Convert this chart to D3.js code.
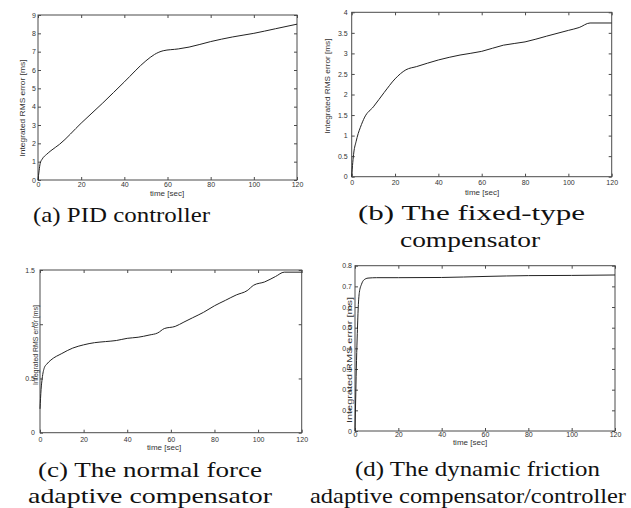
<!DOCTYPE html>
<html>
<head>
<meta charset="utf-8">
<script src="https://cdn.jsdelivr.net/npm/d3@7"></script>
<style>
  body { margin: 0; background: #fff; }
  svg { display: block; }
</style>
</head>
<body>
<svg id="chart" width="631" height="508"></svg>
<script>
// ---- data ----
const xTicks = [0, 20, 40, 60, 80, 100, 120];

const timeA  = [0, 0.5, 1, 2, 4, 6, 10, 20, 30, 40, 50, 54, 58, 65, 70, 80, 90, 100, 110, 120];
const valuesA = [0, 0.5, 0.9, 1.15, 1.4, 1.6, 1.95, 3.1, 4.2, 5.35, 6.5, 6.85, 7.05, 7.15, 7.25, 7.55, 7.8, 8.0, 8.25, 8.5];
const yTicksA = [0, 1, 2, 3, 4, 5, 6, 7, 8, 9];

const timeB  = [0, 0.5, 1, 2, 3, 4, 6, 10, 15, 20, 25, 30, 40, 50, 60, 70, 80, 90, 100, 105, 110, 120];
const valuesB = [0, 0.35, 0.6, 0.85, 1.05, 1.2, 1.45, 1.7, 2.05, 2.38, 2.6, 2.68, 2.84, 2.96, 3.05, 3.2, 3.28, 3.42, 3.56, 3.63, 3.74, 3.74];
const yTicksB = [0, 0.5, 1, 1.5, 2, 2.5, 3, 3.5, 4];

const timeC  = [0, 0.5, 1, 2, 3, 5, 10, 15, 20, 25, 30, 35, 40, 45, 50, 54, 57, 62, 66, 70, 75, 80, 85, 90, 95, 98, 103, 108, 112, 120];
const valuesC = [0.22, 0.4, 0.5, 0.6, 0.63, 0.67, 0.73, 0.78, 0.81, 0.83, 0.84, 0.85, 0.87, 0.88, 0.9, 0.92, 0.96, 0.98, 1.02, 1.06, 1.11, 1.17, 1.22, 1.27, 1.31, 1.36, 1.39, 1.44, 1.48, 1.48];
const yTicksC = [0, 0.5, 1, 1.5];

const timeD  = [0, 0.3, 0.6, 1, 1.5, 2, 3, 4, 6, 10, 20, 40, 60, 80, 100, 120];
const valuesD = [0, 0.15, 0.3, 0.45, 0.6, 0.67, 0.71, 0.73, 0.74, 0.742, 0.742, 0.743, 0.748, 0.752, 0.753, 0.755];
const yTicksD = [0, 0.1, 0.2, 0.3, 0.4, 0.5, 0.6, 0.7, 0.8];

const yLabel = "Integrated RMS error [ms]";
const xLabel = "time [sec]";
const captionsA = ["(a) PID controller"];
const captionsB = ["(b) The fixed-type", "compensator"];
const captionsC = ["(c) The normal force", "adaptive compensator"];
const captionsD = ["(d) The dynamic friction", "adaptive compensator/controller"];

// ---- layout ----
const panels = [
  { t: timeA, v: valuesA, yTicks: yTicksA, yMax: 9, box: [38, 15, 297, 180],
    xPad: 2, yPad: 2, ylab: [24.5, 108, 97], xlab: [167, 196],
    cap: captionsA, capPos: [[121.5, 222, 177]] },
  { t: timeB, v: valuesB, yTicks: yTicksB, yMax: 4, box: [351.7, 12.3, 611.7, 176.7],
    xPad: 3.3, yPad: 4, ylab: [329.5, 86, 95], xlab: [482, 195],
    cap: captionsB, capPos: [[471.5, 220, 227], [470, 247, 140]] },
  { t: timeC, v: valuesC, yTicks: yTicksC, yMax: 1.5, box: [40, 270, 301.7, 432.7],
    xPad: 4.6, yPad: 5, ylab: [38, 345, 80], xlab: [164, 450],
    cap: captionsC, capPos: [[150, 477, 224], [150, 503, 244]] },
  { t: timeD, v: valuesD, yTicks: yTicksD, yMax: 0.8, box: [355, 265.7, 615, 431],
    xPad: 1, yPad: 3, ylab: [352, 360, 126], xlab: [470, 444.5],
    cap: captionsD, capPos: [[477.5, 476, 245], [468, 503, 316]] }
];

const svg = d3.select("#chart");
const axisColor = "#4a4a4a";
const fontSans = "'Liberation Sans', Arial, sans-serif";

// pick a thin serif font that is really installed
function pickSerif() {
  const candidates = ["Liberation Serif", "Tinos", "Times New Roman", "Noto Serif", "Noto Serif CJK KR",
                      "FreeSerif", "Nimbus Roman", "DejaVu Serif Condensed"];
  const probe = svg.append("text").style("font-size", "40px").text("(a) PID controller wmiWMI");
  probe.style("font-family", "monospace");
  const base = probe.node().getComputedTextLength();
  let found = null;
  for (const f of candidates) {
    probe.style("font-family", `'${f}', monospace`);
    if (Math.abs(probe.node().getComputedTextLength() - base) > 0.5) { found = f; break; }
  }
  probe.remove();
  return found ? `'${found}', serif` : "serif";
}
const fontSerif = pickSerif();

panels.forEach(p => {
  const [x0, y0, x1, y1] = p.box;
  const x = d3.scaleLinear().domain([0, 120]).range([x0, x1]);
  const y = d3.scaleLinear().domain([0, p.yMax]).range([y1, y0]);
  const g = svg.append("g");

  // box
  g.append("rect").attr("x", x0).attr("y", y0).attr("width", x1 - x0).attr("height", y1 - y0)
    .attr("fill", "none").attr("stroke", axisColor).attr("stroke-width", 1);

  // axes with inward ticks on all four sides
  const xb = g.append("g").attr("transform", `translate(0,${y1})`)
    .call(d3.axisBottom(x).tickValues(xTicks).tickSize(-3).tickPadding(p.xPad).tickFormat(d3.format("d")));
  const xt = g.append("g").attr("transform", `translate(0,${y0})`)
    .call(d3.axisTop(x).tickValues(xTicks).tickSize(-3).tickFormat(""));
  const yl = g.append("g").attr("transform", `translate(${x0},0)`)
    .call(d3.axisLeft(y).tickValues(p.yTicks).tickSize(-3).tickPadding(p.yPad).tickFormat(d3.format("~g")));
  const yr = g.append("g").attr("transform", `translate(${x1},0)`)
    .call(d3.axisRight(y).tickValues(p.yTicks).tickSize(-3).tickFormat(""));
  [xb, xt, yl, yr].forEach(a => {
    a.select(".domain").remove();
    a.selectAll("line").attr("stroke", axisColor);
    a.selectAll("text").attr("fill", "#333").style("font-family", fontSans).style("font-size", "7px");
  });

  // curve
  const line = d3.line().x((d, i) => x(p.t[i])).y(d => y(d)).curve(d3.curveMonotoneX);
  g.append("path").datum(p.v).attr("d", line)
    .attr("fill", "none").attr("stroke", "#222").attr("stroke-width", 1);

  // axis labels
  g.append("text").attr("transform", `translate(${p.ylab[0]},${p.ylab[1]}) rotate(-90)`)
    .attr("x", -p.ylab[2] / 2)
    .attr("textLength", p.ylab[2]).attr("lengthAdjust", "spacingAndGlyphs")
    .attr("fill", "#333")
    .style("font-family", fontSans).style("font-size", "7.5px").text(yLabel);
  g.append("text").attr("x", p.xlab[0]).attr("y", p.xlab[1])
    .attr("text-anchor", "middle").attr("fill", "#333")
    .style("font-family", fontSans).style("font-size", "8px").text(xLabel);

  // captions
  p.cap.forEach((c, i) => {
    const [cx, cy, w] = p.capPos[i];
    g.append("text").attr("x", cx - w / 2).attr("y", cy)
      .attr("textLength", w).attr("lengthAdjust", "spacingAndGlyphs")
      .attr("fill", "#111")
      .style("font-family", fontSerif).style("font-size", "22px")
      .text(c);
  });
});
</script>
</body>
</html>
